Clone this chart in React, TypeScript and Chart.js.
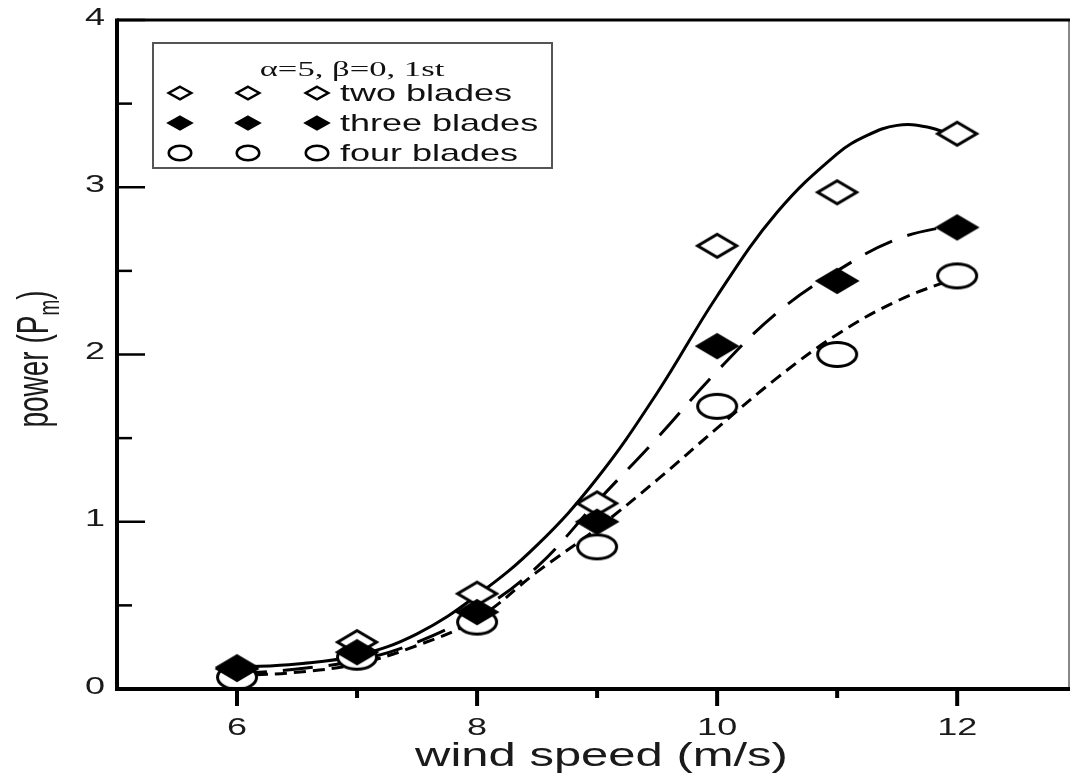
import React, { useEffect, useRef } from 'react';
import { Chart, registerables } from 'chart.js';

Chart.register(...registerables);

// ---- data ----
const windSpeeds = [6, 7, 8, 9, 10, 11, 12];
const twoBlades = [0.13, 0.28, 0.57, 1.11, 2.65, 2.97, 3.32];
const threeBlades = [0.12, 0.22, 0.46, 1.0, 2.05, 2.44, 2.76];
const fourBlades = [0.07, 0.19, 0.4, 0.85, 1.69, 2.0, 2.47];

const fitXTwo = [6, 6.5, 7, 7.5, 8, 8.5, 9, 9.5, 10, 10.5, 11, 11.25, 11.5, 11.75, 12];
const fitTwo = [0.13, 0.15, 0.2, 0.33, 0.56, 0.86, 1.26, 1.77, 2.35, 2.85, 3.2, 3.31, 3.37, 3.36, 3.3];
const fitX = [6, 6.5, 7, 7.5, 8, 8.5, 9, 9.5, 10, 10.5, 11, 11.5, 12];
const fitThree = [0.09, 0.12, 0.17, 0.28, 0.46, 0.73, 1.12, 1.5, 1.9, 2.25, 2.5, 2.69, 2.78];
const fitFour = [0.08, 0.1, 0.15, 0.26, 0.42, 0.7, 0.96, 1.25, 1.56, 1.86, 2.12, 2.32, 2.46];

const seriesLabels = ['two blades', 'three blades', 'four blades'];
const legendTitle = 'α=5, β=0, 1st';
const xMajorTicks = [6, 8, 10, 12];
const xMinorTicks = [7, 9, 11];
const yMajorTicks = [0, 1, 2, 3, 4];
const yMinorTicks = [0.5, 1.5, 2.5, 3.5];
const xTitle = 'wind speed (m/s)';
const yTitleMain = 'power (P';
const yTitleSub = 'm';
const yTitleEnd = ')';

// ---- marker images ----
type Kind = 'openDiamond' | 'filledDiamond' | 'circle';
function makeMarker(kind: Kind, w: number, h: number, lw: number): HTMLCanvasElement {
  const c = document.createElement('canvas');
  const pad = lw;
  c.width = w + pad * 2;
  c.height = h + pad * 2;
  const g = c.getContext('2d')!;
  g.lineWidth = lw;
  g.strokeStyle = '#000';
  const cx = c.width / 2;
  const cy = c.height / 2;
  g.beginPath();
  if (kind === 'circle') {
    g.ellipse(cx, cy, w / 2 - lw / 2, h / 2 - lw / 2, 0, 0, Math.PI * 2);
  } else {
    g.moveTo(cx, cy - h / 2 + lw / 2);
    g.lineTo(cx + w / 2 - lw / 2, cy);
    g.lineTo(cx, cy + h / 2 - lw / 2);
    g.lineTo(cx - w / 2 + lw / 2, cy);
    g.closePath();
  }
  g.fillStyle = kind === 'filledDiamond' ? '#000' : '#fff';
  g.fill();
  g.stroke();
  return c;
}

function stretchedText(
  ctx: CanvasRenderingContext2D, text: string, x: number, y: number,
  font: string, sx: number, align: CanvasTextAlign, baseline: CanvasTextBaseline,
) {
  ctx.save();
  ctx.translate(x, y);
  ctx.scale(sx, 1);
  ctx.font = font;
  ctx.textAlign = align;
  ctx.textBaseline = baseline;
  ctx.fillText(text, 0, 0);
  ctx.restore();
}

const SANS = '"Liberation Sans", Arial, sans-serif';
const SERIF = '"Liberation Serif", "Times New Roman", serif';

export default function App() {
  const ref = useRef<HTMLCanvasElement | null>(null);

  useEffect(() => {
    const canvas = ref.current;
    if (!canvas) return;

    const plotMarkers = {
      open: makeMarker('openDiamond', 42, 26, 3),
      filled: makeMarker('filledDiamond', 42, 26, 3),
      circle: makeMarker('circle', 42, 27, 3),
    };
    const legendMarkers = [
      makeMarker('openDiamond', 25, 15, 2.5),
      makeMarker('filledDiamond', 25, 15, 2.5),
      makeMarker('circle', 25, 17, 2.5),
    ];

    const pts = (xs: number[], ys: number[]) => xs.map((x, i) => ({ x, y: ys[i] }));

    const line = (ctx: CanvasRenderingContext2D, x1: number, y1: number, x2: number, y2: number) => {
      ctx.beginPath();
      ctx.moveTo(x1, y1);
      ctx.lineTo(x2, y2);
      ctx.stroke();
    };

    const decor = {
      id: 'decor',
      afterDraw(chart: any) {
        const { ctx, chartArea: a, scales } = chart;
        const xs = scales.x;
        const ys = scales.y;
        ctx.save();
        ctx.lineCap = 'butt';
        // frame
        ctx.strokeStyle = '#888';
        ctx.lineWidth = 2;
        line(ctx, a.right - 1, a.top, a.right - 1, a.bottom);
        ctx.strokeStyle = '#000';
        ctx.lineWidth = 3;
        line(ctx, a.left, a.top, a.right, a.top);
        ctx.lineWidth = 4;
        line(ctx, a.left, a.top - 1.5, a.left, a.bottom + 2);
        line(ctx, a.left - 2, a.bottom, a.right, a.bottom);

        // y ticks (inward)
        ctx.lineWidth = 2.5;
        yMajorTicks.forEach((v) => {
          const py = ys.getPixelForValue(v);
          line(ctx, a.left, py, a.left + 28, py);
        });
        yMinorTicks.forEach((v) => {
          const py = ys.getPixelForValue(v);
          line(ctx, a.left, py, a.left + 15, py);
        });
        // x ticks (outward)
        ctx.lineWidth = 4;
        xMajorTicks.forEach((v) => {
          const px = xs.getPixelForValue(v);
          line(ctx, px, a.bottom, px, a.bottom + 17);
        });
        xMinorTicks.forEach((v) => {
          const px = xs.getPixelForValue(v);
          line(ctx, px, a.bottom, px, a.bottom + 9);
        });

        // tick labels
        ctx.fillStyle = '#1a1a1a';
        yMajorTicks.forEach((v) => {
          stretchedText(ctx, String(v), 105, ys.getPixelForValue(v) - 2, `24px ${SANS}`, 1.5, 'right', 'middle');
        });
        xMajorTicks.forEach((v) => {
          stretchedText(ctx, String(v), xs.getPixelForValue(v), 728, `24px ${SANS}`, 1.5, 'center', 'middle');
        });

        // x title
        stretchedText(ctx, xTitle, (a.left + a.right) / 2 + 8, 766, `34px ${SANS}`, 1.44, 'center', 'alphabetic');

        // y title with subscript
        ctx.save();
        ctx.translate(48, 359);
        ctx.scale(1.6, 1);
        ctx.rotate(-Math.PI / 2);
        ctx.textBaseline = 'alphabetic';
        ctx.textAlign = 'left';
        const mainFont = `28px ${SANS}`;
        const subFont = `19px ${SANS}`;
        ctx.font = mainFont;
        const w1 = ctx.measureText(yTitleMain).width;
        const w3 = ctx.measureText(yTitleEnd).width;
        ctx.font = subFont;
        const w2 = ctx.measureText(yTitleSub).width;
        const total = w1 + w2 + w3;
        let cx = -total / 2;
        ctx.font = mainFont;
        ctx.fillText(yTitleMain, cx, 0);
        cx += w1;
        ctx.font = subFont;
        ctx.fillText(yTitleSub, cx, 7);
        cx += w2;
        ctx.font = mainFont;
        ctx.fillText(yTitleEnd, cx, 0);
        ctx.restore();

        // legend box
        ctx.fillStyle = '#fff';
        ctx.fillRect(153, 43, 399, 125);
        ctx.strokeStyle = '#555';
        ctx.lineWidth = 2;
        ctx.strokeRect(153, 43, 399, 125);
        ctx.fillStyle = '#111';
        stretchedText(ctx, legendTitle, 352, 70, `21px ${SERIF}`, 1.65, 'center', 'middle');
        const rowY = [93, 123, 153];
        const symX = [180, 248, 317];
        seriesLabels.forEach((label, i) => {
          const img = legendMarkers[i];
          symX.forEach((sx) => {
            ctx.drawImage(img, sx - img.width / 2, rowY[i] - img.height / 2);
          });
          stretchedText(ctx, label, 340, rowY[i] + 1, `24px ${SANS}`, 1.5, 'left', 'middle');
        });
        ctx.restore();
      },
    };

    const chart = new Chart(canvas, {
      type: 'scatter',
      data: {
        datasets: [
          {
            label: seriesLabels[0],
            data: pts(windSpeeds, twoBlades),
            pointStyle: plotMarkers.open as any,
            order: 1,
          },
          {
            label: seriesLabels[1],
            data: pts(windSpeeds, threeBlades),
            pointStyle: plotMarkers.filled as any,
            order: 0,
          },
          {
            label: seriesLabels[2],
            data: pts(windSpeeds, fourBlades),
            pointStyle: plotMarkers.circle as any,
            order: 2,
          },
          {
            label: seriesLabels[0] + ' fit',
            data: pts(fitXTwo, fitTwo),
            showLine: true,
            pointRadius: 0,
            borderColor: '#000',
            borderWidth: 3,
            tension: 0.4,
            order: 3,
          },
          {
            label: seriesLabels[1] + ' fit',
            data: pts(fitX, fitThree),
            showLine: true,
            pointRadius: 0,
            borderColor: '#000',
            borderWidth: 3,
            borderDash: [30, 16],
            tension: 0.4,
            order: 3,
          },
          {
            label: seriesLabels[2] + ' fit',
            data: pts(fitX, fitFour),
            showLine: true,
            pointRadius: 0,
            borderColor: '#000',
            borderWidth: 3,
            borderDash: [12, 7],
            tension: 0.4,
            order: 3,
          },
        ] as any,
      },
      options: {
        animation: false,
        responsive: false,
        devicePixelRatio: 1,
        layout: { autoPadding: false, padding: { left: 0, right: 2, top: 20, bottom: 0 } },
        plugins: { legend: { display: false }, tooltip: { enabled: false } },
        elements: { point: { radius: 12, hoverRadius: 12 } },
        scales: {
          x: {
            type: 'linear',
            min: 5,
            max: 12.94,
            grid: { display: false },
            border: { display: false },
            ticks: { display: false },
            afterFit: (s: any) => { s.height = 91; },
          },
          y: {
            type: 'linear',
            min: 0,
            max: 4,
            grid: { display: false },
            border: { display: false },
            ticks: { display: false },
            afterFit: (s: any) => { s.width = 117; },
          },
        },
      } as any,
      plugins: [decor],
    });

    return () => chart.destroy();
  }, []);

  return (
    <div style={{ position: 'absolute', left: 0, top: 0, width: 1072, height: 780, background: '#fff' }}>
      <canvas ref={ref} width={1072} height={780} style={{ display: 'block', width: 1072, height: 780 }} />
    </div>
  );
}
